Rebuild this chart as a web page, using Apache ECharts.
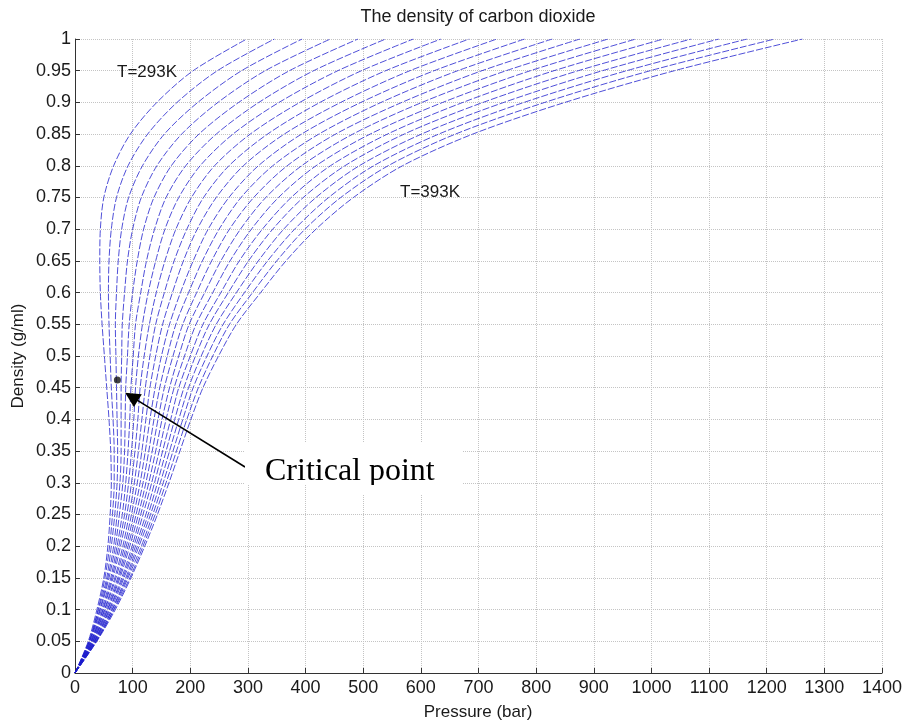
<!DOCTYPE html>
<html>
<head>
<meta charset="utf-8">
<title>The density of carbon dioxide</title>
<script src="https://cdn.jsdelivr.net/npm/echarts@6/dist/echarts.min.js"></script>
<style>
    html, body { margin: 0; padding: 0; background: #fff; }
    #chart { width: 907px; height: 727px; }
</style>
</head>
<body>
<div id="chart"></div>
<script>
// density levels (g/ml) shared by every isotherm
const densities = [0, 0.05, 0.1, 0.15, 0.2, 0.25, 0.3, 0.35, 0.4, 0.45, 0.5,
    0.55, 0.6, 0.65, 0.7, 0.75, 0.8, 0.85, 0.9, 0.95, 1];

// pressure (bar) at each density level, one array per isotherm
const p293 = [0, 23, 38, 50, 57, 61, 63, 62, 59, 55, 51, 47, 44, 43, 44, 50, 67, 96, 142, 205, 298];
const p298 = [0, 24, 40, 52, 60, 65, 68, 68, 66, 63, 61, 59, 58, 59, 63, 72, 92, 126, 177, 247, 346];
const p303 = [0, 25, 41, 55, 63, 69, 73, 74, 73, 72, 71, 70, 72, 75, 81, 93, 117, 155, 213, 289, 394];
const p308 = [0, 25, 43, 57, 67, 73, 78, 80, 80, 80, 81, 82, 86, 91, 100, 115, 142, 185, 248, 330, 443];
const p313 = [0, 26, 44, 59, 70, 77, 83, 86, 87, 88, 91, 94, 100, 108, 119, 137, 167, 215, 284, 372, 491];
const p318 = [0, 27, 46, 62, 73, 82, 88, 92, 95, 97, 101, 105, 114, 124, 138, 158, 192, 245, 319, 414, 539];
const p323 = [0, 28, 48, 64, 76, 86, 93, 98, 102, 105, 110, 117, 127, 140, 156, 180, 217, 274, 354, 456, 587];
const p328 = [0, 28, 49, 66, 79, 90, 98, 104, 109, 113, 120, 129, 141, 156, 175, 202, 242, 304, 390, 497, 635];
const p333 = [0, 29, 51, 69, 83, 94, 103, 110, 116, 122, 130, 140, 155, 172, 194, 223, 267, 334, 425, 539, 684];
const p338 = [0, 30, 52, 71, 86, 98, 108, 116, 123, 130, 140, 152, 169, 188, 212, 245, 292, 363, 461, 581, 732];
const p343 = [0, 31, 54, 74, 89, 102, 113, 122, 130, 139, 150, 164, 183, 205, 231, 267, 318, 393, 496, 623, 780];
const p348 = [0, 31, 56, 76, 92, 106, 118, 128, 137, 147, 160, 175, 197, 221, 250, 288, 343, 423, 531, 664, 828];
const p353 = [0, 32, 57, 78, 95, 110, 123, 134, 144, 155, 170, 187, 211, 237, 268, 310, 368, 452, 567, 706, 876];
const p358 = [0, 33, 59, 81, 99, 114, 128, 140, 151, 164, 180, 198, 225, 253, 287, 331, 393, 482, 602, 748, 925];
const p363 = [0, 34, 60, 83, 102, 118, 133, 146, 158, 172, 190, 210, 239, 269, 306, 353, 418, 512, 638, 790, 973];
const p368 = [0, 34, 62, 85, 105, 123, 138, 152, 166, 180, 200, 222, 253, 285, 325, 375, 443, 542, 673, 831, 1021];
const p373 = [0, 35, 64, 88, 108, 127, 143, 158, 173, 189, 209, 233, 266, 301, 343, 396, 468, 571, 708, 873, 1069];
const p378 = [0, 36, 65, 90, 111, 131, 148, 164, 180, 197, 219, 245, 280, 318, 362, 418, 493, 601, 744, 915, 1117];
const p383 = [0, 37, 67, 92, 115, 135, 153, 170, 187, 205, 229, 257, 294, 334, 381, 440, 518, 631, 779, 957, 1166];
const p388 = [0, 37, 68, 95, 118, 139, 158, 176, 194, 214, 239, 268, 308, 350, 399, 461, 543, 660, 815, 998, 1214];
const p393 = [0, 38, 70, 97, 121, 143, 163, 182, 201, 222, 249, 280, 322, 366, 418, 483, 568, 690, 850, 1040, 1262];

const temps = [293, 298, 303, 308, 313, 318, 323, 328, 333, 338, 343,
    348, 353, 358, 363, 368, 373, 378, 383, 388, 393];
const isotherms = [p293, p298, p303, p308, p313, p318, p323, p328, p333, p338, p343,
    p348, p353, p358, p363, p368, p373, p378, p383, p388, p393];

// critical point (bar, g/ml) and the arrow pointing at it
const criticalPoint = [73.5, 0.462];
const arrowFrom = [295, 0.325];
const arrowTo = [98, 0.436];

const FONT = '"Liberation Sans", Arial, sans-serif';
const chart = echarts.init(document.getElementById('chart'));

// isotherm lines
const curveSeries = isotherms.map((p, i) => ({
    name: 'T=' + temps[i] + 'K',
    type: 'line',
    data: densities.map((d, k) => [p[k], d]),
    showSymbol: false,
    smooth: 0.3,
    silent: true,
    clip: true,
    lineStyle: { color: 'rgba(30,30,205,0.78)', width: 1, type: [7, 2] },
    z: 3
}));

chart.setOption({
    animation: false,
    backgroundColor: '#fff',
    grid: { left: 75, right: 25, top: 39, bottom: 54 },
    xAxis: {
        type: 'value',
        min: 0, max: 1400, interval: 100,
        axisLine: { lineStyle: { color: '#333', width: 1 } },
        axisTick: { inside: true, length: 5, lineStyle: { color: '#333' } },
        axisLabel: { color: '#1a1a1a', fontSize: 18, fontFamily: FONT, margin: 6, formatter: v => String(v) },
        splitLine: { show: true, lineStyle: { color: '#c4c4c4', type: 'dotted', width: 1 } }
    },
    yAxis: {
        type: 'value',
        min: 0, max: 1, interval: 0.05,
        axisLine: { show: true, lineStyle: { color: '#333', width: 1 } },
        axisTick: { show: true, inside: true, length: 5, lineStyle: { color: '#333' } },
        axisLabel: {
            color: '#1a1a1a', fontSize: 18, fontFamily: FONT, margin: 4,
            formatter: v => String(+v.toFixed(2))
        },
        splitLine: { show: true, lineStyle: { color: '#c4c4c4', type: 'dotted', width: 1 } }
    },
    series: curveSeries.concat([{
        name: 'Critical point',
        type: 'scatter',
        data: [criticalPoint],
        symbolSize: 7,
        itemStyle: { color: '#111' },
        silent: true,
        z: 5,
        markLine: {
            silent: true,
            symbol: ['none', 'triangle'],
            symbolSize: 15,
            label: { show: false },
            lineStyle: { color: '#000', width: 1.6, type: 'solid' },
            data: [[{ coord: arrowFrom }, { coord: arrowTo }]]
        }
    }]),
    graphic: [
        {
            type: 'text', x: 478, y: 17, z: 100,
            style: { text: 'The density of carbon dioxide', font: '18px ' + FONT, fill: '#1a1a1a', align: 'center', verticalAlign: 'middle' }
        },
        {
            type: 'text', x: 478, y: 712, z: 100,
            style: { text: 'Pressure (bar)', font: '17px ' + FONT, fill: '#1a1a1a', align: 'center', verticalAlign: 'middle' }
        },
        {
            type: 'text', x: 18, y: 356, rotation: Math.PI / 2, z: 100,
            style: { text: 'Density (g/ml)', font: '17px ' + FONT, fill: '#1a1a1a', align: 'center', verticalAlign: 'middle' }
        },
        {
            type: 'text', x: 117, y: 72, z: 100,
            style: { text: 'T=293K', font: '17px ' + FONT, fill: '#1a1a1a', align: 'left', verticalAlign: 'middle' }
        },
        {
            type: 'text', x: 400, y: 192, z: 100,
            style: { text: 'T=393K', font: '17px ' + FONT, fill: '#1a1a1a', align: 'left', verticalAlign: 'middle' }
        },
        {
            type: 'rect', z: 90,
            shape: { x: 245, y: 443, width: 218, height: 42 },
            style: { fill: '#fff' }
        },
        {
            type: 'text', x: 265, y: 472, z: 100,
            style: { text: 'Critical point', font: '32px "Liberation Serif", "Times New Roman", serif', fill: '#000', align: 'left', verticalAlign: 'middle' }
        },
        {
            // the pasted label is cut just under its baseline
            type: 'rect', z: 101,
            shape: { x: 320, y: 485, width: 125, height: 10 },
            style: { fill: '#fff' }
        }
    ]
});
</script>
</body>
</html>
